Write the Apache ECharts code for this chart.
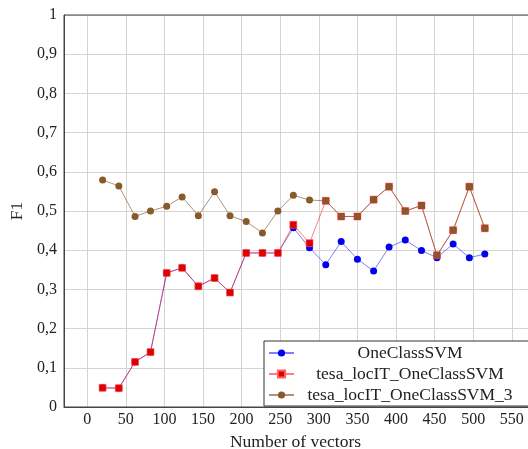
<!DOCTYPE html>
<html>
<head>
<meta charset="utf-8">
<script src="https://cdn.jsdelivr.net/npm/echarts@6/dist/echarts.min.js"></script>
<style>
html,body{margin:0;padding:0;background:#fff;}
#chart{width:528px;height:449px;}
</style>
</head>
<body>
<div id="chart"></div>
<script>
const xValues = [20, 41, 62, 82, 103, 123, 144, 165, 185, 206, 227, 247, 267, 288, 309, 329, 350, 371, 391, 412, 433, 453, 474, 495, 515];
const oneClassSVM = [0.049, 0.048, 0.115, 0.140, 0.342, 0.355, 0.308, 0.329, 0.292, 0.393, 0.393, 0.393, 0.457, 0.406, 0.363, 0.422, 0.377, 0.347, 0.408, 0.426, 0.399, 0.381, 0.416, 0.381, 0.390];
const tesaLocIT = [0.049, 0.048, 0.115, 0.140, 0.342, 0.355, 0.308, 0.329, 0.292, 0.393, 0.393, 0.393, 0.465, 0.418, 0.526, 0.486, 0.486, 0.529, 0.562, 0.500, 0.514, 0.387, 0.451, 0.562, 0.456];
const tesaLocIT3 = [0.579, 0.564, 0.486, 0.500, 0.512, 0.536, 0.488, 0.549, 0.488, 0.473, 0.444, 0.500, 0.540, 0.528, 0.526, 0.486, 0.486, 0.529, 0.562, 0.500, 0.514, 0.387, 0.451, 0.562, 0.456];
const xTicks = [0, 50, 100, 150, 200, 250, 300, 350, 400, 450, 500, 550];
const seriesNames = ['OneClassSVM', 'tesa_locIT_OneClassSVM', 'tesa_locIT_OneClassSVM_3'];

const FONT = 'Liberation Serif';
const pair = arr => xValues.map((x, i) => [x, arr[i]]);

const chart = echarts.init(document.getElementById('chart'), null, {renderer: 'canvas'});
chart.setOption({
  animation: false,
  backgroundColor: '#ffffff',
  grid: {left: 64, top: 15, width: 471, height: 392, outerBoundsMode: 'none', containLabel: false,
    show: true, borderColor: '#444', borderWidth: 1, backgroundColor: 'transparent', z: 1},
  xAxis: {
    type: 'value', min: -30, max: 580,
    name: 'Number of vectors', nameLocation: 'middle', nameGap: 26,
    nameTextStyle: {fontFamily: FONT, fontSize: 17.5, color: '#222', padding: [0, 8, 0, 0]},
    axisLine: {show: true, onZero: false, lineStyle: {color: '#444', width: 1}},
    axisTick: {show: false, customValues: xTicks},
    axisLabel: {customValues: xTicks, fontFamily: FONT, fontSize: 16, color: '#222', margin: 5},
    splitLine: {show: true, lineStyle: {color: '#d4d4d4', width: 1}}
  },
  yAxis: {
    type: 'value', min: 0, max: 1, interval: 0.1,
    name: 'F1', nameLocation: 'middle', nameGap: 37, nameRotate: 90,
    nameTextStyle: {fontFamily: FONT, fontSize: 17.5, color: '#222'},
    axisLine: {show: true, onZero: false, lineStyle: {color: '#444', width: 1}},
    axisTick: {show: false},
    axisLabel: {fontFamily: FONT, fontSize: 16, color: '#222', margin: 7,
      formatter: v => (Math.round(v * 10) / 10).toString().replace('.', ',')},
    splitLine: {show: true, lineStyle: {color: '#d4d4d4', width: 1}}
  },
  legend: {
    orient: 'vertical', left: 264, top: 341,
    data: seriesNames,
    itemWidth: 25, itemHeight: 9, itemGap: 3,
    padding: [3, 8, 2, 4],
    backgroundColor: '#fff', borderColor: '#333', borderWidth: 1,
    textStyle: {fontFamily: FONT, fontSize: 17.5, color: '#222', lineHeight: 18,
      rich: {c: {width: 222, align: 'center', fontFamily: FONT, fontSize: 17.5, color: '#222', lineHeight: 18}}},
    formatter: name => '{c|' + name + '}'
  },
  series: [
    {
      name: seriesNames[0], type: 'line', data: pair(oneClassSVM), z: 2,
      symbol: 'circle', symbolSize: 7,
      itemStyle: {color: '#0000ee'},
      lineStyle: {color: 'rgba(0,0,255,0.5)', width: 1}
    },
    {
      name: seriesNames[1], type: 'line', data: pair(tesaLocIT), z: 3,
      symbol: 'rect', symbolSize: 7,
      itemStyle: {color: '#dd0000', borderColor: '#ff6060', borderWidth: 0.6},
      lineStyle: {color: 'rgba(255,0,0,0.5)', width: 1}
    },
    {
      name: seriesNames[2], type: 'line', data: pair(tesaLocIT3), z: 4,
      symbol: 'circle', symbolSize: 7,
      itemStyle: {color: '#87592b'},
      lineStyle: {color: 'rgba(135,89,43,0.65)', width: 1}
    }
  ]
});
</script>
</body>
</html>
